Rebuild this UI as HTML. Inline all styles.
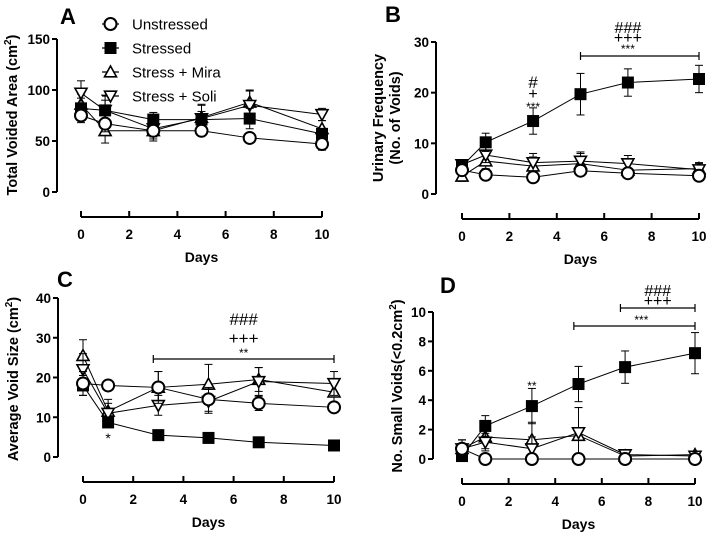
<!DOCTYPE html>
<html><head><meta charset="utf-8">
<style>
body{margin:0;background:#fff;}
svg{display:block;font-family:"Liberation Sans",Arial,sans-serif;}
</style></head>
<body>
<svg id="fig" width="709" height="535" viewBox="0 0 709 535"></svg>
<script>
const days = [0,1,3,5,7,10];
const seriesNames = ["Unstressed","Stressed","Stress + Mira","Stress + Soli"];
// Panel A: total voided area
const aUn = [75,67,60,60,53,47];
const aSt = [82,80,71,71,72,57];
const aMi = [86,60,60,73,88,62];
const aSo = [97,80,62,72,85,76];
const aErr = [[7,8,6,4,4,6],[10,10,7,8,10,5],[10,12,10,12,12,8],[12,15,10,14,14,6]];
// Panel B: urinary frequency
const bUn = [4.7,3.8,3.3,4.6,4.1,3.6];
const bSt = [5.5,10.2,14.4,19.7,22,22.7];
const bMi = [3.5,6.5,5.5,6.0,4.7,5.0];
const bSo = [5.8,7.7,6.2,6.5,6.0,4.8];
const bErr = [[0.7,0.5,0.5,0.8,0.6,0.5],[1,1.8,2.6,4.1,2.7,2.7],[1,1.5,1.8,2,1.5,1.2],[1,1.5,1.8,1.8,1.6,1.2]];
// Panel C: average void size
const cUn = [18.5,18,17.5,14.5,13.5,12.5];
const cSt = [18,8.7,5.5,4.8,3.7,2.9];
const cMi = [25.5,11.5,17.5,18.3,19.5,16.3];
const cSo = [22,11,13,14,19,18.5];
const cErr = [[3,1.2,4,3,1.8,1],[2.5,1.2,0.3,0.3,0.3,0.3],[4,3,4,5,3,3],[4,2.5,2.5,3,3.5,3]];
// Panel D: small voids
const dUn = [0.7,0,0,0,0,0];
const dSt = [0.2,2.25,3.6,5.1,6.25,7.2];
const dMi = [0.7,1.5,1.3,1.6,0.2,0.3];
const dSo = [0.7,1.15,0.7,1.8,0.3,0.2];
const dErr = [[0.6,0,0,0,0,0],[0.7,0.7,1.2,1.2,1.1,1.4],[0.6,0.8,1.2,1.9,0.2,0.2],[0.6,0.6,0.8,1.7,0.2,0.1]];
const aTicks=[0,50,100,150], bTicks=[0,10,20,30], cTicks=[0,10,20,30,40], dTicks=[0,2,4,6,8,10];
const xTicks=[0,2,4,6,8,10];

const NS="http://www.w3.org/2000/svg";
const svg=document.getElementById('fig');
function mk(tag,attrs,parent,text){const e=document.createElementNS(NS,tag);for(const k in attrs)e.setAttribute(k,attrs[k]);if(text!==undefined)e.textContent=text;(parent||svg).appendChild(e);return e;}

function panel(P){
  const g=mk('g',{});
  
  
  const ymax=P.yTicks[P.yTicks.length-1];
  const ys=v=>P.y0+(P.yTop-P.y0)*v/ymax;
  const xs=v=>P.x0+(P.x10-P.x0)*v/10;
  const ya=mk('line',{x1:P.ax,y1:ys(ymax),x2:P.ax,y2:P.y0,stroke:'#000','stroke-width':2},g);
  
  P.yTicks.forEach(t=>{
    mk('line',{x1:P.ax-5,y1:ys(t),x2:P.ax,y2:ys(t),stroke:'#000','stroke-width':2},g);
    const tl=mk('text',{x:P.ax-7,y:ys(t)+5,'text-anchor':'end','font-size':13.5,'font-weight':'bold'},g,t);
    
  });
  const xa=mk('line',{x1:xs(0),y1:P.xa,x2:xs(10),y2:P.xa,stroke:'#000','stroke-width':2},g);
  
  xTicks.forEach(t=>{
    mk('line',{x1:xs(t),y1:P.xa-6,x2:xs(t),y2:P.xa,stroke:'#000','stroke-width':2},g);
    const tl=mk('text',{x:xs(t),y:P.xa+22,'text-anchor':'middle','font-size':13.5,'font-weight':'bold'},g,t);
    
  });
  const xt=mk('text',{x:(xs(0)+xs(10))/2,y:P.xa+45,'text-anchor':'middle','font-size':14,'font-weight':'bold'},g,'Days');
  
  const yt=mk('text',{transform:`translate(${P.ytx},${P.yty}) rotate(-90)`,'text-anchor':'middle','font-size':14.5,'font-weight':'bold'},g);
  
  P.ytitle(yt);
  const pl=mk('text',{x:P.lx,y:P.ly,'font-size':22,'font-weight':'bold'},g,P.id);
  
  const order=[2,3,1,0];
  order.forEach(si=>{
    const vals=P.series[si], err=P.err[si];
    const sg=mk('g',{},g);
    
    
    const pts=days.map((d,i)=>xs(d)+','+ys(vals[i])).join(' ');
    mk('polyline',{points:pts,fill:'none',stroke:'#000','stroke-width':1},sg);
    days.forEach((d,i)=>{
      const x=xs(d),y=ys(vals[i]),e=err[i];
      if(e>0){
        mk('line',{x1:x,y1:ys(vals[i]+e),x2:x,y2:ys(Math.max(0,vals[i]-e)),stroke:'#000','stroke-width':1},sg);
        mk('line',{x1:x-4,y1:ys(vals[i]+e),x2:x+4,y2:ys(vals[i]+e),stroke:'#000','stroke-width':1},sg);
        mk('line',{x1:x-4,y1:ys(Math.max(0,vals[i]-e)),x2:x+4,y2:ys(Math.max(0,vals[i]-e)),stroke:'#000','stroke-width':1},sg);
      }
      const m=marker(si,x,y,sg);
      
      
    });
  });
  (P.annot||[]).forEach(a=>{
    if(a.br){
      mk('line',{x1:xs(a.br[0]),y1:a.y,x2:xs(a.br[1]),y2:a.y,stroke:'#000','stroke-width':1.2},g);
      mk('line',{x1:xs(a.br[0]),y1:a.y-4,x2:xs(a.br[0]),y2:a.y+4,stroke:'#000','stroke-width':1.2},g);
      mk('line',{x1:xs(a.br[1]),y1:a.y-4,x2:xs(a.br[1]),y2:a.y+4,stroke:'#000','stroke-width':1.2},g);
    } else {
      const t=mk('text',{x:xs(a.x),y:a.y,'text-anchor':'middle','font-size':a.s||15},g,a.t);
      
    }
  });
}
function marker(si,x,y,p){
  const r=6;
  if(si===0) return mk('circle',{cx:x,cy:y,r:r,fill:'#fff',stroke:'#000','stroke-width':2},p);
  if(si===1) return mk('rect',{x:x-r,y:y-r,width:2*r,height:2*r,fill:'#000'},p);
  if(si===2) return mk('polygon',{points:`${x},${y-r} ${x-r},${y+r*0.8} ${x+r},${y+r*0.8}`,fill:'#fff',stroke:'#000','stroke-width':1.6},p);
  return mk('polygon',{points:`${x},${y+r} ${x-r},${y-r*0.8} ${x+r},${y-r*0.8}`,fill:'#fff',stroke:'#000','stroke-width':1.6},p);
}
function sup(el,a,b,c){mk('tspan',{},el,a);mk('tspan',{dy:-6,'font-size':10},el,b);mk('tspan',{dy:6},el,c);}

panel({id:'A',ax:57,y0:192,yTop:39,yTicks:aTicks,xa:217,x0:81,x10:322,series:[aUn,aSt,aMi,aSo],err:aErr,
  ytx:17,yty:115,ytitle:e=>sup(e,'Total Voided Area (cm','2',')'),lx:60,ly:24});
panel({id:'B',ax:436,y0:194,yTop:42,yTicks:bTicks,xa:219,x0:462,x10:699,series:[bUn,bSt,bMi,bSo],err:bErr,
  ytx:390,yty:118,ytitle:e=>{mk('tspan',{x:0,dy:-7},e,'Urinary Frequency');mk('tspan',{x:0,dy:17},e,'(No. of Voids)');},lx:385,ly:22,
  annot:[{x:3,y:88,t:'#',s:17},{x:3,y:99,t:'+',s:16},{x:3,y:111,t:'***',s:12},{br:[5,10],y:56},{x:7,y:56-3,t:'***',s:12},{x:7,y:43,t:'+++',s:16},{x:7,y:33,t:'###',s:16}]});
panel({id:'C',ax:58,y0:457,yTop:298,yTicks:cTicks,xa:482,x0:83,x10:334,series:[cUn,cSt,cMi,cSo],err:cErr,
  ytx:18,yty:379,ytitle:e=>sup(e,'Average Void Size (cm','2',')'),lx:57,ly:287,
  annot:[{x:1,y:443,t:'*',s:14},{br:[2.8,10],y:359},{x:6.4,y:357,t:'**',s:12},{x:6.4,y:344,t:'+++',s:17},{x:6.4,y:325,t:'###',s:17}]});
panel({id:'D',ax:433,y0:459,yTop:312,yTicks:dTicks,xa:484,x0:462,x10:695,series:[dUn,dSt,dMi,dSo],err:dErr,
  ytx:402,yty:386,ytitle:e=>sup(e,'No. Small Voids(<0.2cm','2',')'),lx:440,ly:293,
  annot:[{x:3,y:390,t:'**',s:12},{br:[4.8,10],y:326},{x:7.7,y:324,t:'***',s:12},{br:[6.8,10],y:308},{x:8.4,y:306,t:'+++',s:16},{x:8.4,y:296,t:'###',s:16}]});

const lg=mk('g',{});


seriesNames.forEach((n,i)=>{
  const y=24+i*24;
  const eg=mk('g',{},lg);
  
  
  mk('line',{x1:102,y1:y,x2:119,y2:y,stroke:'#000','stroke-width':1.2},eg);
  marker(i,110.5,y,eg);
  mk('text',{x:132,y:y+5.5,'font-size':15},eg,n);
});
</script>
</body></html>
